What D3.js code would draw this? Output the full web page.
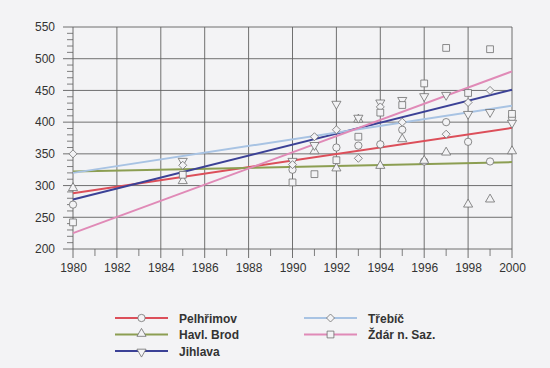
<!DOCTYPE html>
<html><head><meta charset="utf-8">
<script src="https://cdn.jsdelivr.net/npm/d3@7"></script>
<style>
html,body{margin:0;padding:0;background:#f3f3f5;}
svg{display:block;}
text{font-family:"Liberation Sans",Arial,Helvetica,sans-serif;}
</style></head>
<body>
<svg id="chart" width="550" height="368"></svg>
<script>
// ---- data ----
const seriesNames = ["Pelhřimov","Havl. Brod","Jihlava","Třebíč","Ždár n. Saz."];
const seriesColors = ["#dc4f5a","#8c9e52","#3b4196","#a8c3e3","#e08ab7"];
const seriesSymbols = ["circle","triangleUp","triangleDown","diamond","square"];
const years = [1980,1985,1990,1991,1992,1993,1994,1995,1996,1997,1998,1999,2000];
// null = no visible point
const pelhrimov = [270,null,325,null,360,363,365,388,338,400,369,338,407];
const havlBrod  = [295,306,null,353,326,403,330,372,338,351,269,277,353];
const jihlava   = [null,340,340,365,430,408,432,436,442,444,414,417,400];
const trebic    = [350,332,333,377,388,343,424,400,null,381,431,450,null];
const zdar      = [242,317,305,318,340,377,415,427,461,517,446,515,413];
const seriesValues = [pelhrimov,havlBrod,jihlava,trebic,zdar];
// trend lines (values at 1980 and 2000)
const trendStart = [288,322,278,320,225];
const trendEnd   = [391,337,451,426,480];
const xTicks = [1980,1982,1984,1986,1988,1990,1992,1994,1996,1998,2000];
const yTicks = [200,250,300,350,400,450,500,550];

// ---- chart ----
const svg = d3.select("#chart");
const x = d3.scaleLinear().domain([1980,2000]).range([73,512]);
const y = d3.scaleLinear().domain([200,550]).range([249,27]);
const gridColor = "#616161";

// minor ticks
const minorY = d3.range(200,551,10).filter(v=>v%50!==0);
svg.append("g").selectAll("line").data(minorY).join("line")
  .attr("x1",x(1980)-6).attr("x2",x(1980)).attr("y1",d=>y(d)).attr("y2",d=>y(d))
  .attr("stroke",gridColor).attr("stroke-width",0.8);
const minorX = d3.range(1981,2000,2);
svg.append("g").selectAll("line").data(minorX).join("line")
  .attr("x1",d=>x(d)).attr("x2",d=>x(d)).attr("y1",y(200)).attr("y2",y(200)+7)
  .attr("stroke",gridColor).attr("stroke-width",0.8);

// grid lines
svg.append("g").selectAll("line").data(yTicks).join("line")
  .attr("x1",x(1980)-10).attr("x2",x(2000)).attr("y1",d=>y(d)).attr("y2",d=>y(d))
  .attr("stroke",gridColor).attr("stroke-width",0.9);
svg.append("g").selectAll("line").data(xTicks).join("line")
  .attr("x1",d=>x(d)).attr("x2",d=>x(d)).attr("y1",y(550)).attr("y2",y(200)+9)
  .attr("stroke",gridColor).attr("stroke-width",0.9);

// axis labels via d3 axes
const yAxis = svg.append("g").attr("transform",`translate(${x(1980)-10},0)`)
  .call(d3.axisLeft(y).tickValues(yTicks).tickSize(0).tickPadding(8).tickFormat(d3.format("d")));
yAxis.select(".domain").remove();
yAxis.selectAll("text").attr("font-size",12).attr("fill","#333").style("font-family","Liberation Sans, Arial, sans-serif");
const xAxis = svg.append("g").attr("transform",`translate(0,${y(200)+9})`)
  .call(d3.axisBottom(x).tickValues(xTicks).tickSize(0).tickPadding(5).tickFormat(d3.format("d")));
xAxis.select(".domain").remove();
xAxis.selectAll("text").attr("font-size",12).attr("fill","#333").style("font-family","Liberation Sans, Arial, sans-serif");

// trend lines
svg.append("g").selectAll("line").data(seriesNames).join("line")
  .attr("x1",x(1980)).attr("x2",x(2000))
  .attr("y1",(d,i)=>y(trendStart[i])).attr("y2",(d,i)=>y(trendEnd[i]))
  .attr("stroke",(d,i)=>seriesColors[i]).attr("stroke-width",2);

// symbols
const diamondPath = "M0,-4L4,0L0,4L-4,0Z";
const symType = {circle:d3.symbolCircle,triangleUp:d3.symbolTriangle,triangleDown:d3.symbolTriangle,square:d3.symbolSquare};
const symSize = {circle:42,triangleUp:36,triangleDown:36,square:46};
function drawSym(g,sym,cx,cy){
  const rot = sym==="triangleDown"?180:0;
  const dy = sym==="triangleUp"?-0.8:(sym==="triangleDown"?0.8:0);
  const d = sym==="diamond" ? diamondPath : d3.symbol().type(symType[sym]).size(symSize[sym])();
  g.append("path").attr("d",d)
   .attr("transform",`translate(${cx},${cy+dy}) rotate(${rot})`)
   .attr("fill","#f3f3f5").attr("stroke","#6e6e6e").attr("stroke-width",0.8);
}
const pts = svg.append("g");
seriesValues.forEach((vals,i)=>{
  vals.forEach((v,j)=>{ if(v!=null) drawSym(pts,seriesSymbols[i],x(years[j]),y(v)); });
});

// legend
const legendPos = [[115,318],[115,334.5],[115,351],[304,318],[304,334.5]];
const lg = svg.append("g");
seriesNames.forEach((n,i)=>{
  const [lx,ly]=legendPos[i];
  lg.append("line").attr("x1",lx).attr("x2",lx+53).attr("y1",ly).attr("y2",ly)
    .attr("stroke",seriesColors[i]).attr("stroke-width",2);
  drawSym(lg,seriesSymbols[i],lx+26.5,ly);
  lg.append("text").attr("x",lx+64).attr("y",ly+4.5).text(n)
    .attr("font-size",12).attr("font-weight","bold").attr("fill","#333");
});
</script>
</body></html>
